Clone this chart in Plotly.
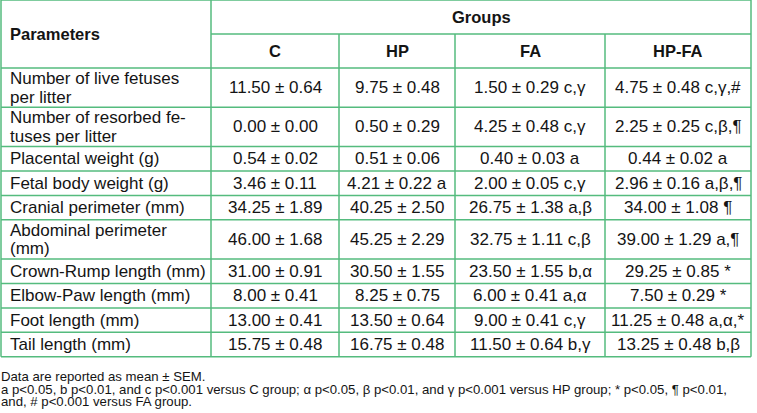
import plotly.graph_objects as go

# table content
parameters = [
    ["Number of live fetuses", "per litter"],
    ["Number of resorbed fe-", "tuses per litter"],
    ["Placental weight (g)"],
    ["Fetal body weight (g)"],
    ["Cranial perimeter (mm)"],
    ["Abdominal perimeter", "(mm)"],
    ["Crown-Rump length (mm)"],
    ["Elbow-Paw length (mm)"],
    ["Foot length (mm)"],
    ["Tail length (mm)"],
]
groups = ["C", "HP", "FA", "HP-FA"]

c_mean = [11.50, 0.00, 0.54, 3.46, 34.25, 46.00, 31.00, 8.00, 13.00, 15.75]
c_sem = [0.64, 0.00, 0.02, 0.11, 1.89, 1.68, 0.91, 0.41, 0.41, 0.48]
c_sig = ["", "", "", "", "", "", "", "", "", ""]

hp_mean = [9.75, 0.50, 0.51, 4.21, 40.25, 45.25, 30.50, 8.25, 13.50, 16.75]
hp_sem = [0.48, 0.29, 0.06, 0.22, 2.50, 2.29, 1.55, 0.75, 0.64, 0.48]
hp_sig = ["", "", "", "a", "", "", "", "", "", ""]

fa_mean = [1.50, 4.25, 0.40, 2.00, 26.75, 32.75, 23.50, 6.00, 9.00, 11.50]
fa_sem = [0.29, 0.48, 0.03, 0.05, 1.38, 1.11, 1.55, 0.41, 0.41, 0.64]
fa_sig = ["c,γ", "c,γ", "a", "c,γ", "a,β", "c,β", "b,α", "a,α", "c,γ", "b,γ"]

hpfa_mean = [4.75, 2.25, 0.44, 2.96, 34.00, 39.00, 29.25, 7.50, 11.25, 13.25]
hpfa_sem = [0.48, 0.25, 0.02, 0.16, 1.08, 1.29, 0.85, 0.29, 0.48, 0.48]
hpfa_sig = ["c,γ,#", "c,β,¶", "a", "a,β,¶", "¶", "a,¶", "*", "*", "a,α,*", "b,β"]

footnotes = [
    "Data are reported as mean ± SEM.",
    "a p<0.05, b p<0.01, and c p<0.001 versus C group; α p<0.05, β p<0.01, and γ p<0.001 versus HP group; * p<0.05, ¶ p<0.01,",
    "and, # p<0.001 versus FA group.",
]

# layout constants (axis units = pixels)
col_edges = [1, 211, 339, 455, 605, 751]
head_h = 34
one_line_h = 24.4
two_line_h = 39.3
line_gap = 18.7
grid = "#55bb7e"
ink = "#141414"
FONT = "Liberation Sans, Arial, sans-serif"

def cell(m, s, sig):
    txt = f"{m:.2f} ± {s:.2f}"
    return txt + (" " + sig if sig else "")

cols = [
    [cell(m, s, g) for m, s, g in zip(c_mean, c_sem, c_sig)],
    [cell(m, s, g) for m, s, g in zip(hp_mean, hp_sem, hp_sig)],
    [cell(m, s, g) for m, s, g in zip(fa_mean, fa_sem, fa_sig)],
    [cell(m, s, g) for m, s, g in zip(hpfa_mean, hpfa_sem, hpfa_sig)],
]

row_edges = [0, head_h, 2 * head_h]
for p in parameters:
    row_edges.append(row_edges[-1] + (two_line_h if len(p) > 1 else one_line_h))

fig = go.Figure()
shapes = []
annos = []

def hline(y, x0, x1):
    shapes.append(dict(type="line", xref="x", yref="y", x0=x0, x1=x1, y0=y, y1=y,
                       line=dict(color=grid, width=1.5)))

def vline(x, y0, y1):
    shapes.append(dict(type="line", xref="x", yref="y", x0=x, x1=x, y0=y0, y1=y1,
                       line=dict(color=grid, width=1.5)))

def text(x, y, s, size=17, bold=False, anchor="center"):
    annos.append(dict(x=x, y=y, xref="x", yref="y", text=f"<b>{s}</b>" if bold else s,
                      showarrow=False, xanchor=anchor, yanchor="middle", borderpad=0,
                      font=dict(family=FONT, size=size, color=ink)))

# grid
left, right = col_edges[0], col_edges[-1]
top, bottom = row_edges[0], row_edges[-1]
hline(top, left, right)
hline(row_edges[1], col_edges[1], right)
for y in row_edges[2:]:
    hline(y, left, right)
vline(left, top, bottom)
vline(right, top, bottom)
vline(col_edges[1], top, bottom)
for x in col_edges[2:-1]:
    vline(x, row_edges[1], bottom)

# header
text(left + 8, head_h, "Parameters", size=16.5, bold=True, anchor="left")
text((col_edges[1] + right) / 2, head_h / 2, "Groups", size=16.5, bold=True)
for i, g in enumerate(groups):
    text((col_edges[i + 1] + col_edges[i + 2]) / 2, head_h * 1.5, g, size=16.5, bold=True)

# body
for r, p in enumerate(parameters):
    yc = (row_edges[r + 2] + row_edges[r + 3]) / 2
    n = len(p)
    for k, ln in enumerate(p):
        text(left + 8, yc + (k - (n - 1) / 2) * line_gap, ln, size=17, anchor="left")
    for i in range(4):
        text((col_edges[i + 1] + col_edges[i + 2]) / 2, yc, cols[i][r])

# footnotes
for k, f in enumerate(footnotes):
    text(0, bottom + 20 + k * 12.5, f, size=13.2, anchor="left")

fig.add_trace(go.Scatter(x=[0, 757], y=[0, 413], mode="markers",
                         marker=dict(opacity=0), hoverinfo="skip", showlegend=False))
fig.update_layout(
    width=757, height=413,
    margin=dict(l=0, r=0, t=0, b=0),
    paper_bgcolor="white", plot_bgcolor="white",
    xaxis=dict(range=[0, 757], visible=False, fixedrange=True),
    yaxis=dict(range=[413, 0], visible=False, fixedrange=True),
    shapes=shapes, annotations=annos,
)
fig.write_html("out.html", config={"displayModeBar": False},
               post_script="document.body.style.margin='0';")
